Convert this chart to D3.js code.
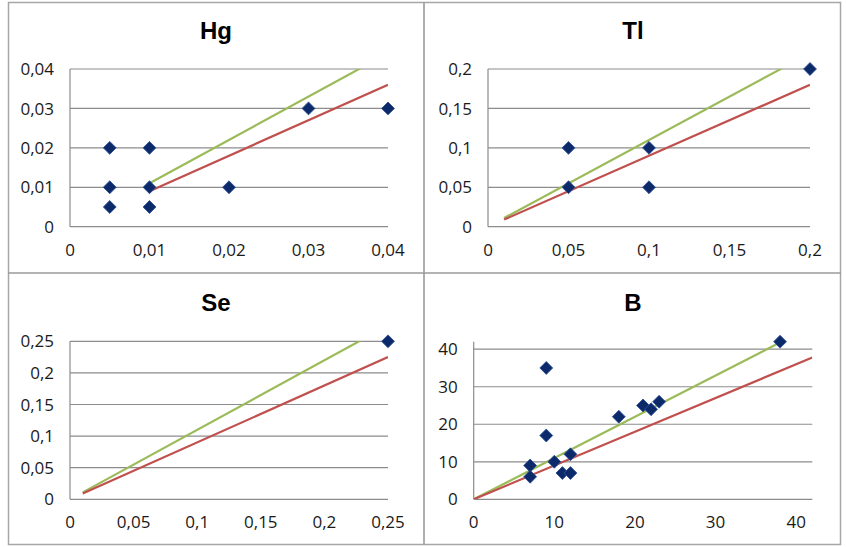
<!DOCTYPE html>
<html><head><meta charset="utf-8">
<script src="https://cdn.jsdelivr.net/npm/d3@7"></script>
<style>body{margin:0;background:#fff}</style>
</head><body><svg id="c" width="846" height="547"></svg>
<script>
// ---- data ----
const panelTitles = ["Hg", "Tl", "Se", "B"];
const hgX = [0.005, 0.005, 0.005, 0.01, 0.01, 0.01, 0.02, 0.03, 0.04];
const hgY = [0.02, 0.01, 0.005, 0.02, 0.01, 0.005, 0.01, 0.03, 0.03];
const tlX = [0.05, 0.05, 0.1, 0.1, 0.2];
const tlY = [0.1, 0.05, 0.1, 0.05, 0.2];
const seX = [0.25];
const seY = [0.25];
const bX = [7, 7, 9, 9, 10, 11, 12, 12, 18, 21, 22, 23, 38];
const bY = [9, 6, 35, 17, 10, 7, 12, 7, 22, 25, 24, 26, 42];
const hgTicks = [0, 0.01, 0.02, 0.03, 0.04];
const tlTicks = [0, 0.05, 0.1, 0.15, 0.2];
const seTicks = [0, 0.05, 0.1, 0.15, 0.2, 0.25];
const bTicks = [0, 10, 20, 30, 40];
const axisMax = [0.04, 0.2, 0.25, 42];
const lineStart = [0.01, 0.01, 0.01, 0];
const lineSlopes = [1.1, 0.9];
const lineColors = ["#9bbb59", "#c0504d"];

const seriesX = [hgX, tlX, seX, bX];
const seriesY = [hgY, tlY, seY, bY];
const ticks = [hgTicks, tlTicks, seTicks, bTicks];

// ---- layout ----
const layout = [
  {x0: 70, x1: 388, y0: 69, y1: 226.7, cx: 216, ty: 39},
  {x0: 488, x1: 810, y0: 69, y1: 226.7, cx: 633, ty: 39},
  {x0: 70, x1: 388, y0: 341.3, y1: 499.3, cx: 216, ty: 311},
  {x0: 473.7, x1: 812.3, y0: 341.7, y1: 499.3, cx: 633, ty: 311}
];

const loc = d3.formatLocale({decimal: ",", thousands: " ", grouping: [3], currency: ["", ""]});
const fmt = loc.format("~g");

const svg = d3.select("#c");
const defs = svg.append("defs");

const diamond = {
  draw(ctx, size) {
    const r = Math.sqrt(size) / 2;
    ctx.moveTo(0, -r); ctx.lineTo(r, 0); ctx.lineTo(0, r); ctx.lineTo(-r, 0); ctx.closePath();
  }
};

// frame
svg.append("rect").attr("x", 8.5).attr("y", 2.5).attr("width", 832).attr("height", 542)
  .attr("fill", "none").attr("stroke", "#a6a6a6").attr("stroke-width", 1.5);
svg.append("line").attr("x1", 424).attr("x2", 424).attr("y1", 2).attr("y2", 545)
  .attr("stroke", "#9a9a9a").attr("stroke-width", 1.6);
svg.append("line").attr("x1", 8).attr("x2", 841).attr("y1", 273).attr("y2", 273)
  .attr("stroke", "#9a9a9a").attr("stroke-width", 1.6);

panelTitles.forEach((title, i) => {
  const L = layout[i];
  const x = d3.scaleLinear().domain([0, axisMax[i]]).range([L.x0, L.x1]);
  const y = d3.scaleLinear().domain([0, axisMax[i]]).range([L.y1, L.y0]);
  const g = svg.append("g");

  // title
  g.append("text").attr("x", L.cx).attr("y", L.ty).attr("text-anchor", "middle")
    .attr("font-family", "Liberation Sans, Arial, sans-serif").attr("font-weight", "bold")
    .attr("font-size", 24).attr("fill", "#000").text(title);

  // gridlines
  g.selectAll(".grid").data(ticks[i]).enter().append("line")
    .attr("x1", L.x0).attr("x2", L.x1)
    .attr("y1", d => y(d)).attr("y2", d => y(d))
    .attr("stroke", "#8c8c8c").attr("stroke-width", 1.2);
  // y axis line
  g.append("line").attr("x1", x(0)).attr("x2", x(0))
    .attr("y1", y(axisMax[i])).attr("y2", y(0))
    .attr("stroke", "#8c8c8c").attr("stroke-width", 1.2);

  // y tick labels
  g.selectAll(".yl").data(ticks[i]).enter().append("text")
    .attr("x", L.x0 - 16).attr("y", d => y(d)).attr("dy", "0.36em")
    .attr("text-anchor", "end").attr("font-family", "Open Sans, sans-serif")
    .attr("font-size", 17).attr("fill", "#1a1a1a").text(d => fmt(d));
  // x tick labels
  g.selectAll(".xl").data(ticks[i]).enter().append("text")
    .attr("x", d => x(d)).attr("y", L.y1 + 29)
    .attr("text-anchor", "middle").attr("font-family", "Open Sans, sans-serif")
    .attr("font-size", 17).attr("fill", "#1a1a1a").text(d => fmt(d));

  // clip
  const cid = "clip" + i;
  defs.append("clipPath").attr("id", cid).append("rect")
    .attr("x", L.x0).attr("y", L.y0).attr("width", L.x1 - L.x0).attr("height", L.y1 - L.y0);

  // reference lines
  lineSlopes.forEach((s, k) => {
    g.append("line").attr("clip-path", `url(#${cid})`)
      .attr("x1", x(lineStart[i])).attr("y1", y(s * lineStart[i]))
      .attr("x2", x(axisMax[i])).attr("y2", y(s * axisMax[i]))
      .attr("stroke", lineColors[k]).attr("stroke-width", 2.2);
  });

  // markers
  const pts = seriesX[i].map((v, j) => [v, seriesY[i][j]]);
  g.selectAll(".pt").data(pts).enter().append("path")
    .attr("d", d3.symbol().type(diamond).size(165))
    .attr("transform", d => `translate(${x(d[0])},${y(d[1])})`)
    .attr("fill", "#0c2a6a").attr("stroke", "#2c4f94").attr("stroke-width", 0.9);
});
</script>
</body></html>
